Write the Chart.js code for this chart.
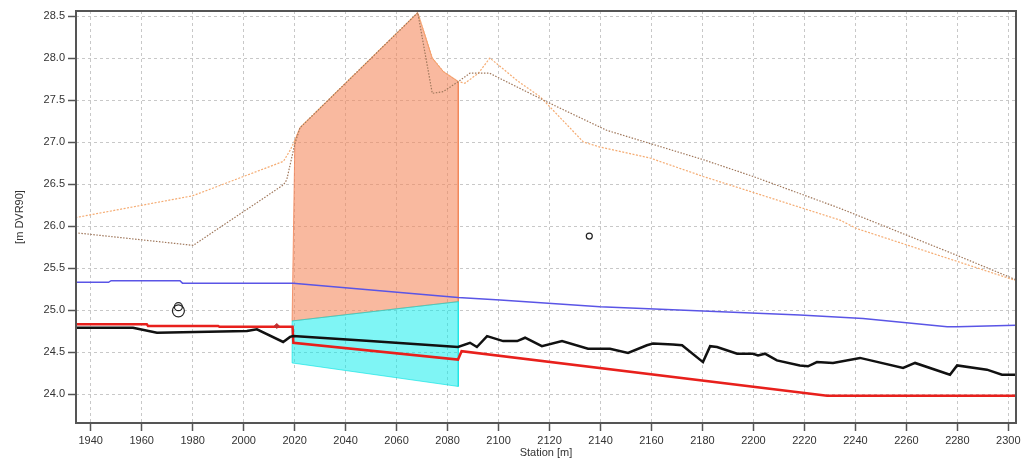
<!DOCTYPE html>
<html>
<head>
<meta charset="utf-8">
<script src="https://cdn.jsdelivr.net/npm/chart.js@4/dist/chart.umd.min.js"></script>
<style>
  html, body { margin: 0; padding: 0; background: #fff; }
  canvas { display: block; }
</style>
</head>
<body>
<canvas id="profile" width="1030" height="461"></canvas>
<script>
// Axis ticks
const stationTicks = [1940, 1960, 1980, 2000, 2020, 2040, 2060, 2080, 2100, 2120, 2140, 2160, 2180, 2200, 2220, 2240, 2260, 2280, 2300];
const elevationTicks = [24.0, 24.5, 25.0, 25.5, 26.0, 26.5, 27.0, 27.5, 28.0, 28.5];

// Bank line, light orange
const bankAStation = [1934, 1980, 2015.6, 2018.2, 2020.1, 2022.1, 2068.3, 2074.0, 2078.3, 2084.2, 2086.8, 2092.1, 2096.6, 2107.8, 2116.3, 2133.3, 2139.8, 2159.4, 2180.3, 2234.0, 2240.5, 2303];
const bankAElev    = [26.10, 26.36, 26.77, 26.90, 27.02, 27.17, 28.54, 28.00, 27.84, 27.72, 27.70, 27.82, 28.00, 27.72, 27.54, 27.00, 26.94, 26.81, 26.59, 26.07, 25.97, 25.35];

// Bank line, brown
const bankBStation = [1934, 1980.2, 2015.6, 2016.9, 2020.1, 2022.1, 2068.3, 2074.0, 2078.3, 2084.2, 2088.8, 2096.4, 2120.2, 2142.4, 2180.3, 2199.9, 2234.0, 2279.9, 2303];
const bankBElev    = [25.92, 25.77, 26.49, 26.55, 26.98, 27.17, 28.54, 27.58, 27.60, 27.72, 27.82, 27.82, 27.46, 27.14, 26.79, 26.59, 26.21, 25.65, 25.36];

// Water surface
const waterStation = [1934, 1947, 1948, 1975, 1976, 2019.4, 2084.1, 2100.6, 2139.8, 2218.2, 2243, 2276, 2280, 2303];
const waterElev    = [25.33, 25.33, 25.35, 25.35, 25.32, 25.32, 25.15, 25.12, 25.04, 24.94, 24.90, 24.80, 24.80, 24.82];

// Design bed (red)
const designStation = [1934, 1962, 1962.5, 1990, 1990.5, 2019.2, 2019.5, 2084.1, 2085.5, 2228.9, 2303];
const designElev    = [24.83, 24.83, 24.81, 24.81, 24.80, 24.80, 24.61, 24.41, 24.51, 23.98, 23.98];

// Surveyed bed (black)
const bedStation = [1934, 1956.6, 1966.0, 2001.3, 2005.2, 2015.5, 2018.2, 2019.4, 2049.6, 2084.1, 2088.8, 2091.5, 2095.5, 2101.8, 2107.3, 2110.4, 2117.0, 2124.9, 2135.1, 2143.7, 2150.8, 2158.2, 2160.6, 2168.4, 2172.0, 2180.2, 2183.0, 2185.7, 2193.6, 2199.8, 2201.8, 2204.5, 2209.2, 2218.2, 2221.4, 2224.9, 2231.2, 2241.8, 2258.7, 2263.4, 2277.1, 2279.9, 2291.6, 2297.5, 2303];
const bedElev    = [24.79, 24.79, 24.73, 24.75, 24.77, 24.62, 24.68, 24.69, 24.63, 24.56, 24.61, 24.56, 24.69, 24.63, 24.63, 24.67, 24.57, 24.63, 24.54, 24.54, 24.49, 24.58, 24.60, 24.59, 24.58, 24.38, 24.57, 24.56, 24.48, 24.48, 24.46, 24.48, 24.40, 24.34, 24.33, 24.38, 24.37, 24.43, 24.31, 24.37, 24.23, 24.34, 24.29, 24.23, 24.23];

// Excavation area above the cut (orange) and the cut itself (cyan)
const fillStation = [2019.0, 2020.1, 2022.1, 2068.3, 2074.0, 2078.3, 2084.2, 2084.2, 2019.0];
const fillElev    = [24.87, 27.02, 27.17, 28.54, 28.00, 27.84, 27.72, 25.10, 24.87];
const cutStation  = [2019.0, 2084.2, 2084.2, 2019.0, 2019.0];
const cutElev     = [24.87, 25.10, 24.09, 24.37, 24.87];

// Single survey marks
const markStation = [1974.4, 1974.4, 2135.6];
const markElev    = [25.04, 24.99, 25.88];
const pinStation  = [2013.0];
const pinElev     = [24.81];

const pts = (xs, ys) => xs.map((x, i) => ({ x: x, y: ys[i] }));

const FONT = { family: "'Liberation Sans', Arial, sans-serif", size: 11 };
const TEXT = '#333';
const AXIS = '#555';

// Frame around the plot area
const framePlugin = {
  id: 'frame',
  afterDraw(chart) {
    const { ctx, chartArea: a } = chart;
    ctx.save();
    ctx.strokeStyle = AXIS;
    ctx.lineWidth = 2;
    ctx.strokeRect(a.left, a.top, a.right - a.left, a.bottom - a.top);
    ctx.restore();
  }
};

const line = (data, color, width, dash) => ({
  data: data, showLine: true, borderColor: color, borderWidth: width,
  borderDash: dash || [], pointRadius: 0, tension: 0, fill: false
});

new Chart(document.getElementById('profile'), {
  type: 'scatter',
  data: {
    datasets: [
      {
        data: pts(markStation, markElev), showLine: false, pointStyle: 'circle',
        pointRadius: [4, 6, 3], backgroundColor: 'rgba(0,0,0,0)',
        borderColor: '#222', borderWidth: 1.2
      },
      {
        data: pts(pinStation, pinElev), showLine: false, pointStyle: 'rectRot',
        pointRadius: 2.5, backgroundColor: '#c03030', borderColor: '#c03030', borderWidth: 1
      },
      line(pts(bedStation, bedElev), '#111', 2.5),
      line(pts(designStation, designElev), '#e8201c', 2.5),
      line(pts(waterStation, waterElev), '#5a55e6', 1.5),
      line(pts(bankBStation, bankBElev), 'rgb(160,120,92)', 1.2, [1.5, 1.5]),
      line(pts(bankAStation, bankAElev), 'rgb(245,172,115)', 1.2, [2, 1.5]),
      {
        data: pts(cutStation, cutElev), showLine: true, pointRadius: 0, tension: 0,
        borderColor: 'rgba(0,225,225,0.6)', borderWidth: 1,
        backgroundColor: 'rgba(0,236,236,0.5)', fill: 'shape'
      },
      {
        data: pts(fillStation, fillElev), showLine: true, pointRadius: 0, tension: 0,
        borderColor: 'rgba(240,130,85,0.8)', borderWidth: 1,
        backgroundColor: 'rgba(244,135,90,0.58)', fill: 'shape'
      }
    ]
  },
  options: {
    responsive: false,
    animation: false,
    layout: { padding: { top: 11, right: 14, left: 0, bottom: 0 } },
    plugins: { legend: { display: false }, tooltip: { enabled: false } },
    scales: {
      x: {
        type: 'linear', min: 1934.23, max: 2303.0,
        afterBuildTicks: s => { s.ticks = stationTicks.map(v => ({ value: v })); },
        afterFit: s => { s.height = 38; },
        ticks: {
          autoSkip: false, maxRotation: 0, color: TEXT, font: FONT, padding: 3,
          callback: v => String(v)
        },
        grid: {
          color: '#c8c8c8', lineWidth: 1, tickLength: 8, tickColor: AXIS, tickWidth: 1.5,
          tickBorderDash: [], borderDash: [3, 3]
        },
        border: { display: false, dash: [3, 3] },
        title: { display: true, text: 'Station [m]', color: TEXT, font: FONT, padding: { top: 0, bottom: 1 } }
      },
      y: {
        type: 'linear', min: 23.655, max: 28.56,
        afterBuildTicks: s => { s.ticks = elevationTicks.map(v => ({ value: v })); },
        afterFit: s => { s.width = 76; },
        ticks: {
          autoSkip: false, color: TEXT, font: FONT, padding: 3,
          callback: v => Number(v).toFixed(1)
        },
        grid: {
          color: '#c8c8c8', lineWidth: 1, tickLength: 8, tickColor: AXIS, tickWidth: 1.5,
          tickBorderDash: [], borderDash: [3, 3]
        },
        border: { display: false, dash: [3, 3] },
        title: { display: true, text: '[m DVR90]', color: TEXT, font: FONT, padding: { top: 13, bottom: 0 } }
      }
    }
  },
  plugins: [framePlugin]
});
</script>
</body>
</html>
